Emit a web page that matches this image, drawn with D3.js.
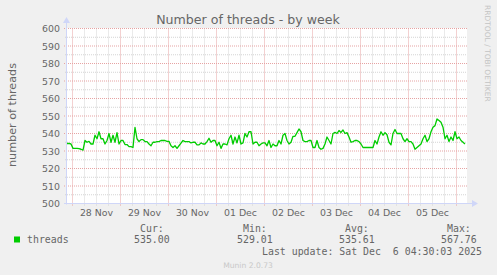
<!DOCTYPE html>
<html>
<head>
<meta charset="utf-8">
<script src="https://cdn.jsdelivr.net/npm/d3@7"></script>
<style>
  body { margin: 0; background: #F0F0F0; }
  svg { display: block; }
  text { font-family: "DejaVu Sans", sans-serif; fill: #666666; }
  .mono { font-family: "DejaVu Sans Mono", monospace; }
</style>
</head>
<body>
<div id="chart"></div>
<script>
// ---- data ----
// one averaged sample per hour, first sample at startTime
const startTime = Date.UTC(2025, 10, 27, 21, 30);
const spanHours = 200;
const threads = [
  534.3, 534.3, 534, 531.5, 531.5, 531.5, 531.3, 531, 530.5, 536,
  535, 535.5, 534, 534, 539, 537, 541, 537, 537, 534,
  536, 540, 535, 539, 535, 540.5, 534, 536, 536, 533.7,
  533.7, 532.5, 532.5, 532, 543.5, 537, 535.4, 536.5, 536.5, 535.4,
  535.4, 534, 533, 535, 535, 535.4, 535.4, 536, 536, 536,
  535.5, 535.5, 533, 532, 533, 531.5, 533, 534.5, 536, 535.4,
  535.4, 535.4, 534.6, 535, 535, 533.5, 533.5, 534.6, 534, 534,
  535.4, 537.3, 535, 536, 536, 533, 535, 531.5, 534, 534,
  533.5, 537, 539, 534, 538, 534.6, 539, 534, 534.6, 540,
  538, 541, 541, 534, 535, 535, 533, 534, 534.6, 534.6,
  533, 536, 532, 534, 533, 533, 536, 534, 539, 540,
  536, 534, 535, 538.4, 538.4, 540.5, 542.6, 541, 536, 535.4,
  535.4, 536, 536, 532, 532, 536, 532, 531, 531.5, 534,
  538, 536, 534, 540, 540.6, 540, 541.7, 540.6, 542, 540,
  540.5, 538, 535, 535.4, 536, 536, 535.4, 534, 532, 532,
  532, 532, 532, 532, 536, 534, 538, 541, 539, 540.5,
  539.3, 535, 533.5, 540, 542.3, 540, 540, 540, 537, 535.4,
  537, 535.4, 535.4, 534, 531, 532, 533, 534, 537, 539,
  535.4, 537, 541, 543.6, 544.5, 548.3, 547.4, 546.4, 543.6, 537,
  539, 535.4, 538, 536, 541, 537, 538, 536, 535, 534
];
const yTicks = [500, 510, 520, 530, 540, 550, 560, 570, 580, 590, 600];
const legendHeads = ["Cur:", "Min:", "Avg:", "Max:"];
const legendValues = ["535.00", "529.01", "535.61", "567.76"];
const seriesName = "threads";
const title = "Number of threads - by week";
const yTitle = "number of threads";
const lastUpdate = "Last update: Sat Dec  6 04:30:03 2025";

// ---- layout ----
const width = 497, height = 275;
const plotLeft = 67, plotRight = 467, plotTop = 28.5, plotBottom = 203.5;
const hour = 3600 * 1000;

const svg = d3.select("#chart").append("svg")
  .attr("width", width).attr("height", height);

svg.append("rect").attr("width", width).attr("height", height).attr("fill", "#F0F0F0");

const x = d3.scaleUtc()
  .domain([new Date(startTime), new Date(startTime + spanHours * hour)])
  .range([plotLeft, plotRight]);
const y = d3.scaleLinear().domain([500, 600]).range([plotBottom, plotTop]);

// canvas
svg.append("rect")
  .attr("x", plotLeft).attr("y", y(600) - 0.5)
  .attr("width", plotRight - plotLeft).attr("height", y(500) - y(600) + 0.5)
  .attr("fill", "#FFFFFF");

// grid
const grid = svg.append("g");
const minorY = d3.range(505, 600, 10);
grid.selectAll(".ymin").data(minorY).enter().append("line")
  .attr("x1", plotLeft - 2).attr("x2", plotRight)
  .attr("y1", d => y(d)).attr("y2", d => y(d))
  .attr("stroke", "#d4d4d4").attr("stroke-dasharray", "1,1");
const minorX = d3.utcHour.every(6).range(x.domain()[0], x.domain()[1])
  .filter(d => d.getUTCHours() !== 0);
grid.selectAll(".xmin").data(minorX).enter().append("line")
  .attr("x1", d => Math.round(x(d)) + 0.5).attr("x2", d => Math.round(x(d)) + 0.5)
  .attr("y1", plotTop).attr("y2", plotBottom + 2)
  .attr("stroke", "#d4d4d4").attr("stroke-dasharray", "1,1");
grid.selectAll(".ymaj").data(yTicks).enter().append("line")
  .attr("x1", plotLeft - 3).attr("x2", plotRight)
  .attr("y1", d => y(d)).attr("y2", d => y(d))
  .attr("stroke", "#e6a3a3").attr("stroke-dasharray", "1,1");
const majorX = d3.utcDay.range(x.domain()[0], x.domain()[1]);
grid.selectAll(".xmaj").data(majorX).enter().append("line")
  .attr("x1", d => Math.round(x(d)) + 0.5).attr("x2", d => Math.round(x(d)) + 0.5)
  .attr("y1", plotTop).attr("y2", plotBottom + 3)
  .attr("stroke", "#e6a3a3").attr("stroke-dasharray", "1,1");

// axes lines with arrows
const axisColor = "#CFD6F8";
svg.append("line").attr("x1", plotLeft - 0.5).attr("x2", plotLeft - 0.5)
  .attr("y1", plotBottom + 1).attr("y2", 22).attr("stroke", axisColor);
svg.append("path").attr("d", `M${plotLeft - 4},23 L${plotLeft - 0.5},17 L${plotLeft + 3},23 Z`).attr("fill", axisColor);
svg.append("line").attr("x1", plotLeft - 3).attr("x2", plotRight + 6)
  .attr("y1", plotBottom).attr("y2", plotBottom).attr("stroke", axisColor);
svg.append("path").attr("d", `M${plotRight + 5},${plotBottom - 3.5} L${plotRight + 11},${plotBottom} L${plotRight + 5},${plotBottom + 3.5} Z`).attr("fill", axisColor);

// tick labels
const yAxis = svg.append("g")
  .attr("transform", `translate(${plotLeft},0)`)
  .call(d3.axisLeft(y).tickValues(yTicks).tickSize(0).tickPadding(7).tickFormat(d3.format("d")));
yAxis.select(".domain").remove();
yAxis.selectAll("text").attr("font-size", "9.4px").attr("font-family", "DejaVu Sans").attr("fill", "#666");

const noons = majorX.map(d => new Date(+d + 12 * hour)).filter(d => x(d) < plotRight);
const xAxis = svg.append("g")
  .attr("transform", `translate(0,${plotBottom})`)
  .call(d3.axisBottom(x).tickValues(noons).tickSize(0).tickPadding(5.8).tickFormat(d3.utcFormat("%d %b")));
xAxis.select(".domain").remove();
xAxis.selectAll("text").attr("font-size", "9.4px").attr("font-family", "DejaVu Sans").attr("fill", "#666");

// series line
const line = d3.line()
  .x((d, i) => x(new Date(startTime + i * hour)))
  .y(d => y(d));
svg.append("path").datum(threads)
  .attr("d", line)
  .attr("fill", "none")
  .attr("stroke", "#00CC00")
  .attr("stroke-width", 1.3)
  .attr("stroke-linejoin", "round");

// titles
svg.append("text").attr("x", 248).attr("y", 24)
  .attr("text-anchor", "middle").attr("font-size", "12.6px").text(title);
svg.append("text")
  .attr("transform", "translate(15.5,115) rotate(-90)")
  .attr("text-anchor", "middle").attr("font-size", "11.2px").text(yTitle);
svg.append("text")
  .attr("transform", "translate(485,5) rotate(90)")
  .attr("font-size", "7.5px").style("fill", "#c4c4c4")
  .text("RRDTOOL / TOBI OETIKER");

// legend
svg.append("rect").attr("x", 14).attr("y", 236.5).attr("width", 6).attr("height", 6).attr("fill", "#00CC00");
svg.append("text").attr("class", "mono").attr("x", 27).attr("y", 243)
  .attr("font-size", "9.9px").text(seriesName);
const headX = [140, 243, 345, 447];
const valX = [134, 237, 339, 441];
svg.selectAll(".head").data(legendHeads).enter().append("text")
  .attr("class", "mono").attr("x", (d, i) => headX[i]).attr("y", 231.5)
  .attr("font-size", "9.9px").text(d => d);
svg.selectAll(".val").data(legendValues).enter().append("text")
  .attr("class", "mono").attr("x", (d, i) => valX[i]).attr("y", 243)
  .attr("font-size", "9.9px").text(d => d);
svg.append("text").attr("class", "mono").attr("x", 262).attr("y", 255)
  .attr("font-size", "9.9px").attr("xml:space", "preserve").style("white-space", "pre")
  .text(lastUpdate);
svg.append("text").attr("x", 248).attr("y", 268)
  .attr("text-anchor", "middle").attr("font-size", "7.6px").style("fill", "#c8c8c8")
  .text("Munin 2.0.73");
</script>
</body>
</html>
